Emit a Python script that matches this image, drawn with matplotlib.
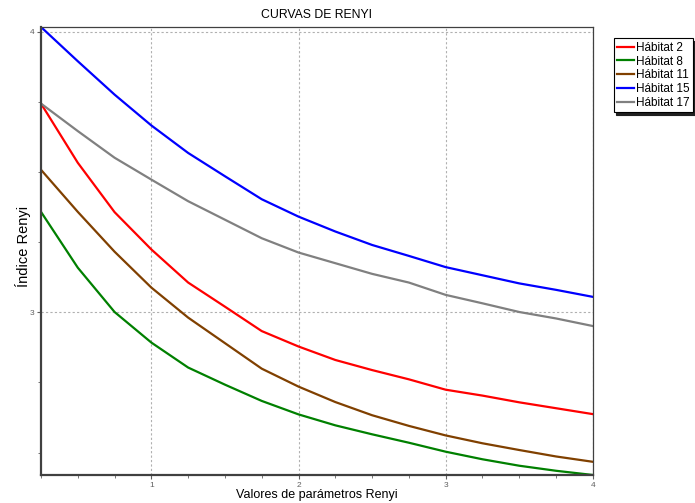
"""Curvas de Renyi por hábitat."""
import matplotlib
matplotlib.use("Agg")
import matplotlib.pyplot as plt
from matplotlib.ticker import MultipleLocator

plt.rcParams["font.family"] = ["Liberation Sans", "DejaVu Sans"]

ALPHA = [0.25, 0.5, 0.75, 1.0, 1.25, 1.5, 1.75, 2.0,
         2.25, 2.5, 2.75, 3.0, 3.25, 3.5, 3.75, 4.0]

HAB_2 = [3.744, 3.533, 3.357, 3.224, 3.106, 3.020, 2.933, 2.878,
         2.830, 2.794, 2.761, 2.724, 2.703, 2.679, 2.658, 2.637]
HAB_8 = [3.358, 3.159, 3.001, 2.892, 2.803, 2.742, 2.684, 2.636,
         2.597, 2.565, 2.535, 2.503, 2.476, 2.453, 2.435, 2.420]
HAB_11 = [3.508, 3.358, 3.216, 3.088, 2.981, 2.890, 2.799, 2.735,
          2.680, 2.633, 2.595, 2.561, 2.533, 2.509, 2.486, 2.467]
HAB_15 = [4.017, 3.895, 3.776, 3.666, 3.568, 3.485, 3.403, 3.341,
          3.288, 3.240, 3.201, 3.161, 3.132, 3.103, 3.080, 3.055]
HAB_17 = [3.744, 3.646, 3.551, 3.473, 3.396, 3.330, 3.264, 3.213,
          3.175, 3.137, 3.106, 3.062, 3.032, 3.001, 2.978, 2.951]

SERIES = [
    ("Hábitat 2", HAB_2, "#ff0000"),
    ("Hábitat 8", HAB_8, "#008000"),
    ("Hábitat 11", HAB_11, "#804000"),
    ("Hábitat 15", HAB_15, "#0000ff"),
    ("Hábitat 17", HAB_17, "#808080"),
]


def main() -> None:
    fig = plt.figure(figsize=(6.95, 5.03), dpi=100)
    ax = fig.add_axes([0.059, 0.0557, 0.794, 0.8906])

    for label, vals, color in SERIES:
        ax.plot(ALPHA, vals, color=color, lw=1.6, label=label)

    all_vals = HAB_2 + HAB_8 + HAB_11 + HAB_15 + HAB_17
    ax.set_xlim(ALPHA[0], ALPHA[-1])
    ax.set_ylim(min(all_vals), max(all_vals))

    ax.xaxis.set_major_locator(MultipleLocator(1))
    ax.xaxis.set_minor_locator(MultipleLocator(0.25))
    ax.yaxis.set_major_locator(MultipleLocator(1))
    ax.yaxis.set_minor_locator(MultipleLocator(0.25))
    ax.tick_params(which="both", labelsize=6, colors="#606060", direction="out")
    ax.tick_params(which="major", length=3, width=0.8, pad=2)
    ax.tick_params(which="minor", length=2.5, width=0.6)
    ax.grid(True, which="major", ls=(0, (2, 2)), color="#b0b0b0", lw=0.8)

    for side in ("left", "bottom"):
        ax.spines[side].set_linewidth(1.6)
        ax.spines[side].set_color("#404040")
    for side in ("top", "right"):
        ax.spines[side].set_linewidth(0.9)
        ax.spines[side].set_color("#404040")

    ax.set_title("CURVAS DE RENYI", fontsize=8.8, pad=6.5)
    ax.set_xlabel("Valores de parámetros Renyi", fontsize=9)
    ax.xaxis.set_label_coords(0.5, -0.031)
    ax.set_ylabel("Índice Renyi", fontsize=10.5)
    ax.yaxis.set_label_coords(-0.019, 0.51)

    leg = fig.legend(loc="upper left", bbox_to_anchor=(0.883, 0.924),
                     fontsize=8.5, frameon=True, fancybox=False,
                     shadow={"color": "#202020", "alpha": 1.0},
                     handlelength=1.45, handletextpad=0.15, borderpad=0.3,
                     labelspacing=0.15, borderaxespad=0)
    leg.get_frame().set_edgecolor("black")
    leg.get_frame().set_linewidth(0.8)

    fig.savefig("out.png", dpi=100)
    plt.close(fig)


if __name__ == "__main__":
    main()
